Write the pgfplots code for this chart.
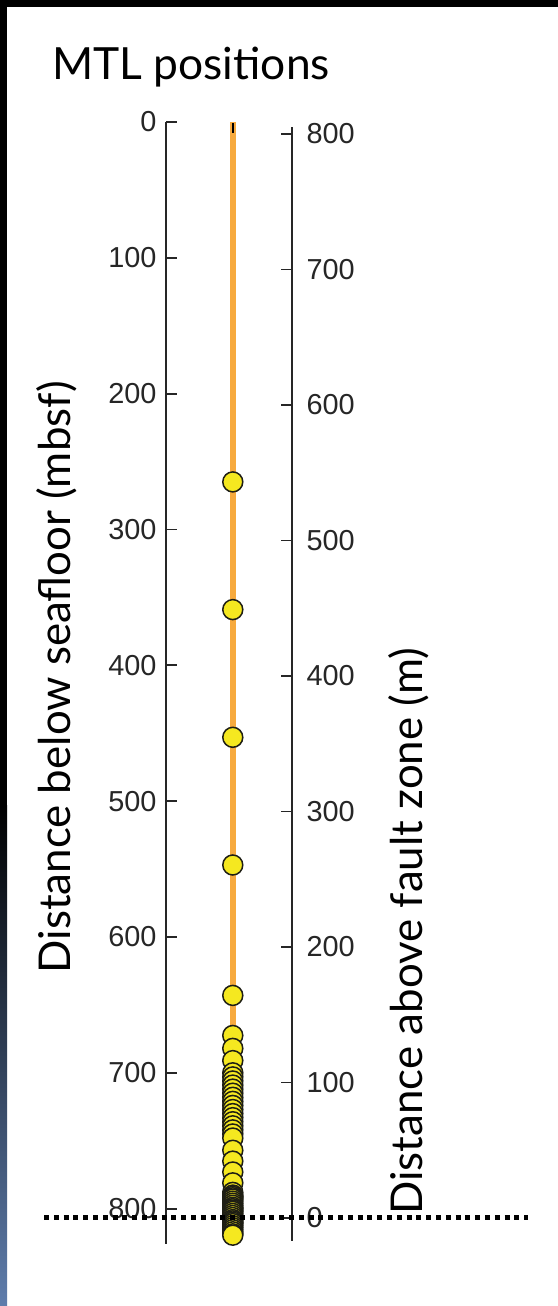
\documentclass[border=0pt]{standalone}
\usepackage{fontspec}
\setmainfont{Lato}
\newfontfamily\arial{Liberation Sans}
\usepackage{pgfplots}
\pgfplotsset{compat=1.18}
\definecolor{lineorange}{RGB}{247,170,62}
\definecolor{dotyellow}{RGB}{245,232,32}
\definecolor{dotedge}{RGB}{30,30,20}
\definecolor{stripblue}{RGB}{95,125,172}

\begin{document}
\begin{tikzpicture}[x=1bp,y=1bp]
% background frame
\fill[white] (0,0) rectangle (558,1306);
\fill[black] (0,1299) rectangle (558,1306);
\fill[black] (0,500) rectangle (7,1306);
\shade[top color=black, bottom color=stripblue] (0,0) rectangle (7,500.5);
% title
\node[anchor=base west, inner sep=0pt, font=\fontsize{44.5}{44.5}\selectfont] at (52,1226) {MTL positions};

% left axis: depth below seafloor
\begin{axis}[
  at={(166bp,62bp)}, anchor=south west,
  scale only axis, width=126bp, height=1122bp,
  xmin=0, xmax=1, ymin=0, ymax=826, y dir=reverse,
  axis x line=none, axis y line=left,
  y axis line style={-, line width=1.8bp, black!85},
  ytick={0,100,...,800},
  tick align=inside, major tick length=11bp,
  every tick/.style={line width=1.8bp, black!85},
  tick label style={font=\arial\fontsize{29}{29}\selectfont, text=black!85},
  /pgf/number format/assume math mode=true,
  yticklabel style={xshift=-6bp},
  ylabel={Distance below seafloor (mbsf)},
  ylabel style={at={(axis description cs:-0.865,0.505)}, anchor=center,
    font=\fontsize{44}{44}\selectfont},
  clip=false,
]
\addplot[lineorange, line width=6bp] coordinates {(0.53,0) (0.53,818)};
\addplot[black, line width=2bp] coordinates {(0.53,1) (0.53,8)};
\addplot[only marks, mark=*, mark size=10bp,
  mark options={fill=dotyellow, draw=dotedge, line width=1.5bp}]
  coordinates {
  (0.53,265) (0.53,359) (0.53,453) (0.53,547) (0.53,643)
  (0.53,672.5) (0.53,682) (0.53,691) (0.53,700)
  (0.53,703) (0.53,706) (0.53,709) (0.53,712) (0.53,715) (0.53,718)
  (0.53,721) (0.53,724) (0.53,727) (0.53,730) (0.53,733) (0.53,736)
  (0.53,739) (0.53,742) (0.53,745) (0.53,748)
  (0.53,757) (0.53,765) (0.53,773) (0.53,781) (0.53,788)
  (0.53,790) (0.53,791) (0.53,792) (0.53,793) (0.53,794.5) (0.53,796) (0.53,797.5)
  (0.53,799) (0.53,800) (0.53,801) (0.53,802) (0.53,803.5) (0.53,805) (0.53,806.5)
  (0.53,808) (0.53,809) (0.53,810) (0.53,811) (0.53,812.5) (0.53,814) (0.53,815.5)
  (0.53,817) (0.53,818.5) (0.53,819.5)
  };
\end{axis}

% right axis: distance above fault zone
\begin{axis}[
  at={(166bp,65bp)}, anchor=south west,
  scale only axis, width=126bp, height=1114bp,
  xmin=0, xmax=1, ymin=-17, ymax=805.2,
  axis x line=none, axis y line=right,
  y axis line style={-, line width=1.8bp, black!85},
  ytick={0,100,...,800},
  tick align=inside, major tick length=11bp,
  every tick/.style={line width=1.8bp, black!85},
  tick label style={font=\arial\fontsize{29}{29}\selectfont, text=black!85},
  /pgf/number format/assume math mode=true,
  yticklabel style={xshift=11bp},
  ylabel={Distance above fault zone (m)},
  ylabel style={at={(axis description cs:1.93,0.278)}, anchor=center, rotate=0,
    font=\fontsize{44}{44}\selectfont},
  clip=false,
]
\addplot[black, line width=5bp, dash pattern=on 5bp off 4.8bp]
  coordinates {(-0.968,0) (2.873,0)};
\end{axis}
\end{tikzpicture}
\end{document}
